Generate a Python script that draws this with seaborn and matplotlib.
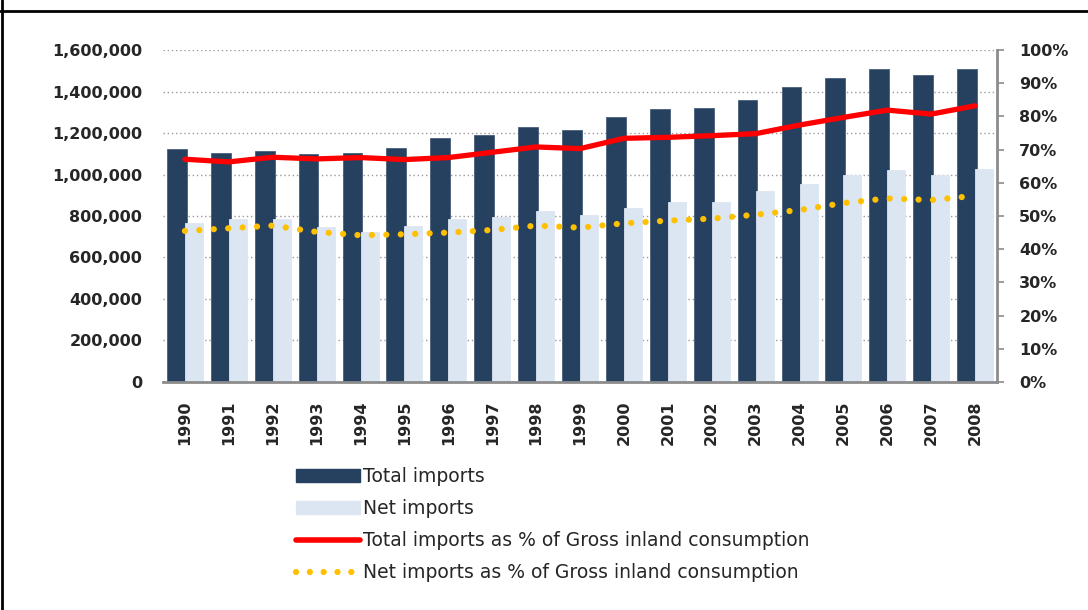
import numpy as np
import pandas as pd
import seaborn as sns
import matplotlib.pyplot as plt
from matplotlib.lines import Line2D
from matplotlib.patches import Patch
from matplotlib.ticker import FuncFormatter, PercentFormatter, FixedLocator

# ===============================
# Data
# ===============================
YEARS = [str(y) for y in range(1990, 2009)]
TOTAL_IMPORTS = [1121000, 1105000, 1113000, 1099000, 1105000, 1126000, 1177000,
                 1190000, 1229000, 1213000, 1279000, 1314000, 1322000, 1357000,
                 1422000, 1463000, 1507000, 1480000, 1507000]
NET_IMPORTS = [768000, 784000, 784000, 745000, 724000, 753000, 784000, 797000,
               826000, 805000, 840000, 869000, 869000, 919000, 956000, 998000,
               1020000, 998000, 1027000]
TOTAL_PCT = [67.1, 66.3, 67.7, 67.2, 67.6, 67.0, 67.6, 69.2, 70.8, 70.3, 73.4,
             73.7, 74.2, 74.8, 77.4, 79.7, 81.9, 80.7, 83.2]
NET_PCT = [45.5, 46.3, 47.1, 45.2, 44.2, 44.5, 45.0, 45.8, 47.1, 46.5, 47.8,
           48.6, 49.2, 50.4, 51.8, 53.9, 55.3, 54.8, 56.1]

SERIES = ["Total imports", "Net imports"]
LINE_LABELS = ["Total imports as % of Gross inland consumption",
               "Net imports as % of Gross inland consumption"]

DARK = "#264060"
LIGHT = "#DCE6F2"
RED = "#FF0000"
GOLD = "#FFC000"
GREY = "#8C8C8C"

sns.set_style("white")
plt.rcParams["font.family"] = ["DejaVu Sans"]

bars = pd.DataFrame({
    "year": YEARS * 2,
    "value": TOTAL_IMPORTS + NET_IMPORTS,
    "series": [SERIES[0]] * len(YEARS) + [SERIES[1]] * len(YEARS),
})

fig = plt.figure(figsize=(10.88, 6.10), dpi=100)
ax = fig.add_axes([0.1498, 0.3738, 0.9164 - 0.1498, 0.918 - 0.3738])

sns.barplot(data=bars, x="year", y="value", hue="series", hue_order=SERIES,
            palette=[DARK, LIGHT], saturation=1, width=0.82, legend=False,
            ax=ax)

# dark bars a touch wider so they tuck under the light ones like the original
n = len(YEARS)
for p in ax.patches[:n]:
    p.set_width(p.get_width() * 1.1)
    p.set_edgecolor("#4A5F7A")
    p.set_linewidth(0.6)
for p in ax.patches[n:2 * n]:
    p.set_edgecolor(LIGHT)
    p.set_linewidth(0.6)

ax.set_xlim(-0.5, n - 0.5)
ax.set_ylim(0, 1600000)
ax.set_yticks(np.arange(0, 1600001, 200000))
ax.yaxis.set_major_formatter(FuncFormatter(lambda v, _: f"{int(v):,}"))
ax.grid(axis="y", linestyle=(0, (1, 2)), color="#9A9A9A", linewidth=1)
ax.set_axisbelow(True)
ax.set_xlabel("")
ax.set_ylabel("")

for s in ["left", "top", "right"]:
    ax.spines[s].set_visible(False)
ax.spines["bottom"].set_color(GREY)
ax.spines["bottom"].set_linewidth(2)

ax.tick_params(axis="y", length=0, pad=15, labelsize=11.5)
ax.tick_params(axis="x", which="major", length=0, pad=13, labelsize=11.5,
               labelrotation=90)
ax.xaxis.set_minor_locator(FixedLocator(np.arange(-0.5, n, 1.0)))
ax.tick_params(axis="x", which="minor", length=6, width=1.5, color=GREY,
               direction="out")
for lab in ax.get_xticklabels() + ax.get_yticklabels():
    lab.set_fontweight("bold")

# percentage lines on the secondary axis
ax2 = ax.twinx()
xpos = np.arange(n)
sns.lineplot(x=xpos, y=np.array(TOTAL_PCT) / 100, color=RED, linewidth=3.8,
             ax=ax2)
sns.lineplot(x=xpos, y=np.array(NET_PCT) / 100, color=GOLD, linewidth=4.5,
             ax=ax2)
ax2.lines[1].set_linestyle((0, (0.01, 2.3)))
ax2.lines[1].set_dash_capstyle("round")
ax2.lines[0].set_solid_joinstyle("round")

ax2.set_xlim(-0.5, n - 0.5)
ax2.set_ylim(0, 1)
ax2.set_yticks(np.arange(0, 1.01, 0.1))
ax2.yaxis.set_major_formatter(PercentFormatter(1.0, decimals=0))
for s in ["left", "top", "bottom"]:
    ax2.spines[s].set_visible(False)
ax2.spines["right"].set_color(GREY)
ax2.spines["right"].set_linewidth(2)
ax2.tick_params(axis="y", length=5, width=1.2, color=GREY, pad=11,
                labelsize=11.5)
for lab in ax2.get_yticklabels():
    lab.set_fontweight("bold")

# legend below the chart
handles = [
    Patch(facecolor=DARK, edgecolor=DARK, label=SERIES[0]),
    Patch(facecolor=LIGHT, edgecolor=LIGHT, label=SERIES[1]),
    Line2D([], [], color=RED, linewidth=4, label=LINE_LABELS[0]),
    Line2D([], [], color=GOLD, linewidth=4.5, linestyle=(0, (0.01, 2.2)),
           dash_capstyle="round", label=LINE_LABELS[1]),
]
fig.legend(handles=handles, loc="upper left",
           bbox_to_anchor=(296 / 1088, 1 - 467 / 610), frameon=False,
           fontsize=13.5, handlelength=3.4, handleheight=0.75,
           handletextpad=0.15, labelspacing=0.7, borderpad=0,
           borderaxespad=0)

# black frame (top and left edges) like the original export
fig.add_artist(Line2D([1.5 / 1088, 1.5 / 1088], [0, 1], color="black",
                      linewidth=2, transform=fig.transFigure))
fig.add_artist(Line2D([0, 1], [1 - 11 / 610, 1 - 11 / 610], color="black",
                      linewidth=2, transform=fig.transFigure))

fig.savefig("out.png", dpi=100)
